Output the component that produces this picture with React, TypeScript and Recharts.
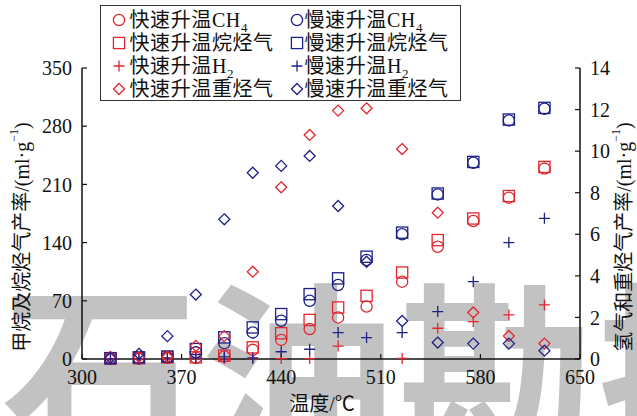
import React from 'react';
import { ScatterChart, Scatter, XAxis, YAxis, Legend } from 'recharts';

const temps = [320, 340, 360, 380, 400, 420, 440, 460, 480, 500, 525, 550, 575, 600, 625];
const xTicks = [300, 370, 440, 510, 580, 650];
const leftTicks = [0, 70, 140, 210, 280, 350];
const rightTicks = [0, 2, 4, 6, 8, 10, 12, 14];

// 快速升温
const fastCH4 = [0.3, 0.5, 1.5, 1.5, 3, 11, 23, 36, 50, 63, 93, 135, 166, 194, 229];
const fastAlkane = [0.5, 1, 2, 2, 4, 14, 31, 47, 62, 76, 104, 143, 169, 196, 231];
const fastH2 = [0.02, 0.02, 0.02, 0.02, 0.02, 0.02, 0.02, 0.02, 0.62, null, 0.03, 1.48, 1.8, 2.12, 2.6];
const fastHeavy = [0.1, 0.1, 0.1, 0.63, 1.1, 4.2, 8.26, 10.78, 11.95, 12.06, 10.1, 7.04, 2.24, 1.11, 0.74];

// 慢速升温
const slowCH4 = [0.5, 1, 2, 8, 19, 32, 46, 70, 89, 119, 150, 198, 236, 287, 301];
const slowAlkane = [1, 2, 3, 12, 26, 38, 54, 78, 97, 123, 152, 199, 237, 288, 302];
const slowH2 = [0, 0, 0.05, 0.05, 0.1, 0.05, 0.35, 0.47, 1.27, 1.03, 1.27, 2.28, 3.72, 5.6, 6.77];
const slowHeavy = [0.05, 0.25, 1.1, 3.1, 6.72, 8.96, 9.29, 9.77, 7.36, 4.68, 1.83, 0.79, 0.74, 0.74, 0.4];

const RED = '#e3262d';
const BLUE = '#1d2088';
const SERIF = '"Liberation Serif", "Noto Sans CJK SC", serif';

const toPoints = (vals: (number | null)[]) =>
  temps.map((t, i) => ({ t, v: vals[i] })).filter((d) => d.v !== null);

type Mark = 'circle' | 'square' | 'plus' | 'diamond';

function Symbol({ kind, color, cx, cy }: { kind: Mark; color: string; cx: number; cy: number }) {
  const common = { fill: 'none', stroke: color, strokeWidth: 1.3 };
  if (kind === 'circle') return <circle cx={cx} cy={cy} r={5.6} {...common} />;
  if (kind === 'square') return <rect x={cx - 5.6} y={cy - 5.6} width={11.2} height={11.2} {...common} />;
  if (kind === 'plus') return <path d={`M${cx - 5.5},${cy}h11M${cx},${cy - 5.5}v11`} {...common} />;
  return <path d={`M${cx},${cy - 5.5}l5.5,5.5l-5.5,5.5l-5.5,-5.5z`} {...common} />;
}

const shapeOf = (kind: Mark, color: string) => (p: any) =>
  p.cx == null ? <g /> : <Symbol kind={kind} color={color} cx={p.cx} cy={p.cy} />;

const series = [
  { name: '快速升温CH4', data: fastCH4, kind: 'circle' as Mark, color: RED, axis: 'left' },
  { name: '慢速升温CH4', data: slowCH4, kind: 'circle' as Mark, color: BLUE, axis: 'left' },
  { name: '快速升温烷烃气', data: fastAlkane, kind: 'square' as Mark, color: RED, axis: 'left' },
  { name: '慢速升温烷烃气', data: slowAlkane, kind: 'square' as Mark, color: BLUE, axis: 'left' },
  { name: '快速升温H2', data: fastH2, kind: 'plus' as Mark, color: RED, axis: 'right' },
  { name: '慢速升温H2', data: slowH2, kind: 'plus' as Mark, color: BLUE, axis: 'right' },
  { name: '快速升温重烃气', data: fastHeavy, kind: 'diamond' as Mark, color: RED, axis: 'right' },
  { name: '慢速升温重烃气', data: slowHeavy, kind: 'diamond' as Mark, color: BLUE, axis: 'right' },
];

// trailing digit of CH4 / H2 goes in a subscript
function LegendText({ name }: { name: string }) {
  const m = name.match(/^(.*?)(\d)$/);
  if (!m) return <>{name}</>;
  return (
    <>
      {m[1]}
      <span style={{ fontSize: 13, verticalAlign: -5, lineHeight: 0 }}>{m[2]}</span>
    </>
  );
}

function LegendBox() {
  const rows = [15.7, 38.5, 61.5, 84.3];
  return (
    <div
      style={{
        position: 'relative',
        width: 361,
        height: 96,
        border: '1.5px solid #333',
        boxSizing: 'border-box',
        background: '#fff',
        fontFamily: SERIF,
        fontSize: 20,
        color: '#111',
        textAlign: 'left',
      }}
    >
      {series.map((s, i) => {
        const col = i % 2;
        const row = Math.floor(i / 2);
        const cy = rows[row] - 1.5;
        const sx = col === 0 ? 17.5 : 195.5;
        return (
          <React.Fragment key={s.name}>
            <svg
              width={16}
              height={16}
              style={{ position: 'absolute', left: sx - 8, top: cy - 8 }}
            >
              <Symbol kind={s.kind} color={s.color} cx={8} cy={8} />
            </svg>
            <div
              style={{
                position: 'absolute',
                left: col === 0 ? 28.5 : 203.5,
                top: cy - 13,
                height: 26,
                lineHeight: '26px',
                whiteSpace: 'nowrap',
                letterSpacing: 0.6,
              }}
            >
              <LegendText name={s.name} />
            </div>
          </React.Fragment>
        );
      })}
    </div>
  );
}

const axisTitle = (text: string, x: number, y: number, rotate: number) => () =>
  (
    <text
      x={x}
      y={y}
      transform={rotate ? `rotate(${rotate} ${x} ${y})` : undefined}
      textAnchor="middle"
      dominantBaseline="central"
      fontFamily={SERIF}
      fontSize={20}
      fill="#111"
    >
      {text}
      {rotate !== 0 && (
        <>
          <tspan>/(ml·g</tspan>
          <tspan fontSize={12} dy={-8}>
            −1
          </tspan>
          <tspan dy={8}>)</tspan>
        </>
      )}
    </text>
  );

const tickStyle = { fill: '#111', fontSize: 20, fontFamily: SERIF };

export default function App() {
  return (
    <div
      style={{
        position: 'absolute',
        left: 0,
        top: 0,
        width: 637,
        height: 416,
        overflow: 'hidden',
        background: '#fff',
      }}
    >
      <div
        style={{
          position: 'absolute',
          left: 2,
          top: 266,
          fontFamily: '"Noto Sans CJK SC", sans-serif',
          fontWeight: 700,
          fontSize: 196,
          lineHeight: '196px',
          letterSpacing: 2,
          color: '#c2c2c2',
          whiteSpace: 'nowrap',
        }}
      >
        石油勘探
      </div>
      <div style={{ position: 'absolute', left: 0, top: 0 }}>
        <ScatterChart width={637} height={416} margin={{ top: 68, right: 0, bottom: 0, left: 0 }}>
          <XAxis
            dataKey="t"
            type="number"
            domain={[300, 650]}
            ticks={xTicks}
            height={57}
            stroke="#111"
            axisLine={{ stroke: '#111', strokeWidth: 1.5 }}
            tickLine={{ stroke: '#111', strokeWidth: 1.2 }}
            tickSize={-5}
            tickMargin={16}
            tick={tickStyle}
            label={{ content: axisTitle('温度/℃', 322, 404, 0) }}
          />
          <YAxis
            yAxisId="left"
            dataKey="v"
            type="number"
            domain={[0, 350]}
            ticks={leftTicks}
            width={82}
            axisLine={{ stroke: '#111', strokeWidth: 1.5 }}
            tickLine={{ stroke: '#111', strokeWidth: 1.2 }}
            tickSize={-5}
            tickMargin={15}
            tick={tickStyle}
            label={{ content: axisTitle('甲烷及烷烃气产率', 22, 237, -90) }}
          />
          <YAxis
            yAxisId="right"
            orientation="right"
            dataKey="v"
            type="number"
            domain={[0, 14]}
            ticks={rightTicks}
            width={57}
            axisLine={{ stroke: '#111', strokeWidth: 1.5 }}
            tickLine={{ stroke: '#111', strokeWidth: 1.2 }}
            tickSize={-5}
            tickMargin={15}
            tick={tickStyle}
            label={{ content: axisTitle('氢气和重烃气产率', 624, 237, -90) }}
          />
          <Legend
            layout="vertical"
            align="center"
            verticalAlign="middle"
            content={() => <LegendBox />}
            wrapperStyle={{ left: 100, top: 5, width: 361, height: 96 }}
          />
          {series.map((s) => (
            <Scatter
              key={s.name}
              name={s.name}
              data={toPoints(s.data)}
              yAxisId={s.axis}
              shape={shapeOf(s.kind, s.color)}
              isAnimationActive={false}
            />
          ))}
        </ScatterChart>
      </div>
    </div>
  );
}
